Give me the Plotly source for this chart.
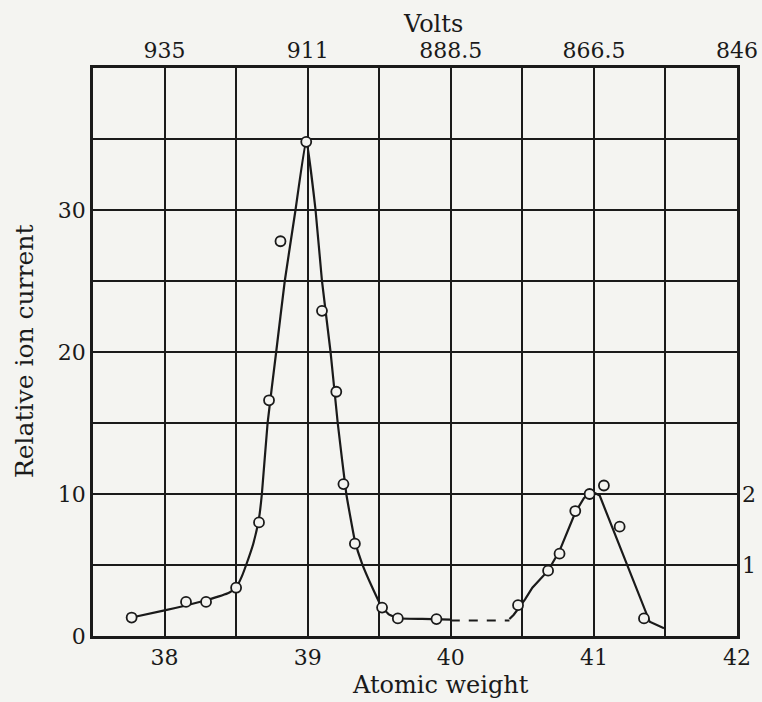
import plotly.graph_objects as go

# Observed points (atomic weight, relative ion current)
obs_x = [37.77, 38.15, 38.29, 38.50, 38.66, 38.73, 38.81, 38.99, 39.10, 39.20, 39.25,
         39.33, 39.52, 39.63, 39.90, 40.47, 40.68, 40.76, 40.87, 40.97, 41.07, 41.18, 41.35]
obs_y = [1.3, 2.4, 2.4, 3.4, 8.0, 16.6, 27.8, 34.8, 22.9, 17.2, 10.7,
         6.5, 2.0, 1.24, 1.19, 2.17, 4.6, 5.8, 8.8, 10.0, 10.6, 7.7, 1.24]

# Drawn curve, first peak (solid)
peak1_x = [37.77, 38.0, 38.15, 38.3, 38.45, 38.5, 38.54, 38.57, 38.62, 38.66, 38.68, 38.72,
           38.78, 38.84, 38.915, 38.99, 39.055, 39.10, 39.16, 39.21, 39.27, 39.33, 39.38,
           39.45, 39.52, 39.57, 39.63, 39.8, 40.0]
peak1_y = [1.3, 1.8, 2.15, 2.55, 3.05, 3.4, 4.2, 5.0, 6.5, 8.3, 10.0, 15.0,
           20.0, 25.0, 30.0, 35.0, 30.0, 25.0, 20.0, 15.0, 10.0, 6.7, 5.1,
           3.45, 2.0, 1.5, 1.25, 1.2, 1.15]

# Dashed gap
gap_x = [40.0, 40.41]
gap_y = [1.1, 1.1]

# Drawn curve, second peak (solid)
peak2_x = [40.41, 40.44, 40.47, 40.52, 40.57, 40.68, 40.76, 40.82, 40.87, 40.93, 40.97,
           41.0, 41.04, 41.39, 41.49]
peak2_y = [1.2, 1.5, 1.9, 2.6, 3.4, 4.6, 6.0, 7.5, 8.7, 9.7, 10.05,
           10.1, 9.9, 1.0, 0.55]

# Axis tick labels
x_ticks = [38, 39, 40, 41, 42]
volt_labels = ["935", "911", "888.5", "866.5", "846"]
y_ticks = [0, 10, 20, 30]
right_ticks = [5, 10]
right_labels = ["1", "2"]

INK = "#1a1a1a"
PAPER = "#f4f4f1"
FONT = "DejaVu Serif"
TICK = 22
TITLE = 24

fig = go.Figure()
fig.add_trace(go.Scatter(x=peak1_x, y=peak1_y, mode="lines",
                         line=dict(color=INK, width=2.2, shape="spline", smoothing=0.3),
                         hoverinfo="skip"))
fig.add_trace(go.Scatter(x=gap_x, y=gap_y, mode="lines",
                         line=dict(color=INK, width=2, dash="dash"), hoverinfo="skip"))
fig.add_trace(go.Scatter(x=peak2_x, y=peak2_y, mode="lines",
                         line=dict(color=INK, width=2.2, shape="linear"), hoverinfo="skip"))
fig.add_trace(go.Scatter(x=obs_x, y=obs_y, mode="markers",
                         marker=dict(symbol="circle", size=10, color=PAPER,
                                     line=dict(color=INK, width=1.8))))
# top (volts) and right axes helpers
fig.add_trace(go.Scatter(x=[None], y=[None], xaxis="x2", yaxis="y2", showlegend=False))

grid = dict(showgrid=True, gridcolor=INK, gridwidth=1.8, automargin=False)
fig.update_layout(
    width=762, height=702,
    paper_bgcolor=PAPER, plot_bgcolor=PAPER,
    showlegend=False,
    margin=dict(l=93, r=25, t=68, b=66, autoexpand=False),
    font=dict(family=FONT, size=20, color=INK),
    xaxis=dict(range=[37.5, 42], tickvals=x_ticks, ticks="", zeroline=False,
               showline=True, linecolor=INK, linewidth=2.5, mirror=True,
               minor=dict(dtick=0.5, tick0=37.5, showgrid=True, gridcolor=INK, gridwidth=1.8),
               tickfont=dict(size=TICK), ticklabelstandoff=0, **grid),
    yaxis=dict(range=[0, 40], tickvals=y_ticks, ticks="", zeroline=False,
               showline=True, linecolor=INK, linewidth=2.5, mirror=True,
               minor=dict(dtick=5, tick0=0, showgrid=True, gridcolor=INK, gridwidth=1.8),
               tickfont=dict(size=TICK), ticklabelstandoff=0, **grid),
    xaxis2=dict(overlaying="x", side="top", range=[37.5, 42], tickvals=x_ticks,
                ticktext=volt_labels, ticks="", showgrid=False, zeroline=False,
                automargin=False, tickfont=dict(size=TICK), ticklabelstandoff=5),
    yaxis2=dict(overlaying="y", side="right", range=[0, 40], tickvals=right_ticks,
                ticktext=right_labels, ticks="", showgrid=False, zeroline=False,
                automargin=False, tickfont=dict(size=TICK), ticklabelstandoff=4),
    annotations=[
        dict(text="Volts", xref="paper", yref="paper", x=0.528, y=1.0, yshift=44,
             showarrow=False, font=dict(size=TITLE), xanchor="center", yanchor="middle"),
        dict(text="Atomic weight", xref="paper", yref="paper", x=0.540, y=0.0, yshift=-49,
             showarrow=False, font=dict(size=TITLE), xanchor="center", yanchor="middle"),
        dict(text="Relative ion current", xref="paper", yref="paper", x=0.0, y=0.5,
             xshift=-69, textangle=-90, showarrow=False, font=dict(size=25),
             xanchor="center", yanchor="middle"),
    ],
)

fig.write_html("out.html", config={"displayModeBar": False},
               post_script="document.body.style.margin='0';"
                           "document.body.style.background='" + PAPER + "';")
